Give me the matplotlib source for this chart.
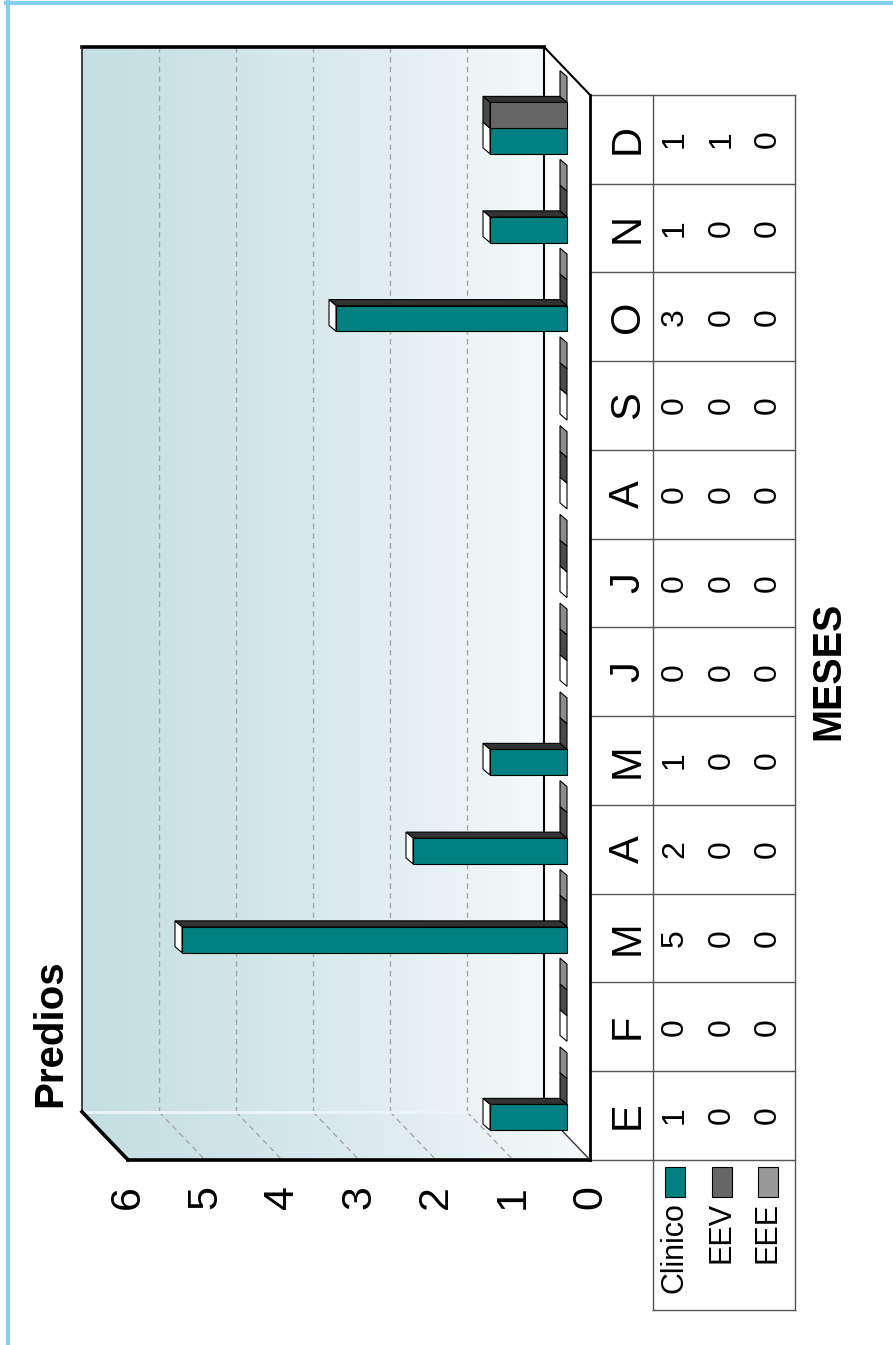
import numpy as np
import matplotlib
matplotlib.use('Agg')
import matplotlib.pyplot as plt
from matplotlib.patches import Polygon, Rectangle
from matplotlib.lines import Line2D
from matplotlib.colors import LinearSegmentedColormap

plt.rcParams['font.family'] = ['Liberation Sans', 'DejaVu Sans']

# ---------------- data ----------------
months = ['E', 'F', 'M', 'A', 'M', 'J', 'J', 'A', 'S', 'O', 'N', 'D']
clinico = [1, 0, 5, 2, 1, 0, 0, 0, 0, 3, 1, 1]
eev = [0, 0, 0, 0, 0, 0, 0, 0, 0, 0, 0, 1]
eee = [0, 0, 0, 0, 0, 0, 0, 0, 0, 0, 0, 0]
series_names = ['Clinico', 'EEV', 'EEE']
y_ticks = [0, 1, 2, 3, 4, 5, 6]
title = 'Predios'
xlabel = 'MESES'

series = [clinico, eev, eee]
front_cols = ['#008080', '#666666', '#999999']
top_cols = ['#ffffff', '#4a4a4a', '#8c8c8c']
side_col = '#333333'

# ---------------- layout (chart is rotated 90 deg) ----------------
W, H = 893, 1345
fig = plt.figure(figsize=(W / 100, H / 100), dpi=100)
ax = fig.add_axes([0, 0, 1, 1])
ax.axis('off')

PX = 77.0      # pixels per value unit
PY = 88.75     # pixels per month
X0 = 590.0     # pixel x of value 0 (front plane)
Y0 = 1115.5    # pixel y of first month (front plane)


def pv(x):
    return (X0 - x) / PX


def pi(y):
    return (Y0 - y) / PY


n = len(months)
vmax = max(y_ticks)
DX = 46 / PX   # full depth offset (value units)
DY = 48 / PY   # full depth offset (month units)
MV = 0.5 * DX  # bars stand at mid depth
MI = 0.5 * DY
BH = 0.29      # bar thickness
bdv = 7 / PX   # bar depth
bdi = 6 / PY

lo, hi = -0.5, n - 0.5

# back wall with gradient
cmap = LinearSegmentedColormap.from_list('wall', ['#f5f9fa', '#d8e9ec', '#c4dee2'])
grad = np.linspace(0, 1, 256).reshape(1, -1)
ax.imshow(grad, cmap=cmap, aspect='auto', interpolation='bilinear',
          extent=(DX, vmax + DX, lo + DY, hi + DY), zorder=0)

# side wall (bottom strip)
side_poly = Polygon([(DX, lo + DY), (vmax + DX, lo + DY), (vmax, lo), (0, lo)],
                    closed=True, facecolor='none', edgecolor='none')
ax.add_patch(side_poly)
im2 = ax.imshow(grad, cmap=cmap, aspect='auto', interpolation='bilinear',
                extent=(0, vmax + DX, lo, lo + DY), zorder=0)
im2.set_clip_path(side_poly)

# gridlines
for k in y_ticks[1:-1]:
    ax.plot([k + DX, k + DX], [lo + DY, hi + DY], color='#a8a8a8', lw=1,
            ls=(0, (4, 3)), zorder=1)
    ax.plot([k + DX, k], [lo + DY, lo], color='#a8a8a8', lw=1,
            ls=(0, (4, 3)), zorder=1)

# junction line
ax.plot([DX, vmax + DX], [lo + DY, lo + DY], color='#eaf5f7', lw=2, zorder=1)

# frame edges
ax.plot([DX, vmax + DX], [hi + DY, hi + DY], color='black', lw=2.6, zorder=2)
ax.plot([vmax + DX, vmax + DX], [hi + DY, lo + DY], color='#222222', lw=1.2, zorder=2)
ax.plot([vmax + DX, vmax], [lo + DY, lo], color='black', lw=2.6, zorder=2)
ax.plot([vmax, 0], [lo, lo], color='black', lw=2.6, zorder=2)
ax.plot([DX, DX], [hi + DY, lo + DY], color='black', lw=1.5, zorder=2)
ax.plot([DX, 0], [hi + DY, hi], color='black', lw=1.5, zorder=2)
ax.plot([DX, 0], [lo + DY, lo], color='#333333', lw=1, zorder=2)

# bars
z = 3
for i in range(n):
    for s, vals in enumerate(series):
        val = vals[i]
        yc = i + MI + (s - 1) * BH
        y0, y1 = yc - BH / 2, yc + BH / 2
        if val > 0:
            ax.barh(yc, val, height=BH, left=MV, color=front_cols[s],
                    edgecolor='black', lw=0.8, zorder=z)
            ax.add_patch(Polygon([(MV, y1), (MV + val, y1),
                                  (MV + val + bdv, y1 + bdi), (MV + bdv, y1 + bdi)],
                                 closed=True, facecolor=side_col, edgecolor='black',
                                 lw=0.8, zorder=z))
        ax.add_patch(Polygon([(MV + val, y0), (MV + val, y1),
                              (MV + val + bdv, y1 + bdi), (MV + val + bdv, y0 + bdi)],
                             closed=True, facecolor=top_cols[s], edgecolor='black',
                             lw=0.8, zorder=z))
        z += 1

# table
tc = '#555555'
vR = pv(795)
vM = pv(653)
for k in range(n + 1):
    ax.plot([0, vR], [k - 0.5, k - 0.5], color=tc, lw=1, zorder=2)
ax.plot([vM, vM], [pi(1310), hi], color=tc, lw=1, zorder=2)
ax.plot([vR, vR], [pi(1310), hi], color=tc, lw=1, zorder=2)
ax.plot([vM, vR], [pi(1310), pi(1310)], color=tc, lw=1, zorder=2)
ax.plot([0, 0], [lo, hi], color='black', lw=2, zorder=5)

val_x = [pv(675), pv(722), pv(768)]
for i in range(n):
    ax.text(pv(628), i, months[i], rotation=90, ha='center', va='center',
            fontsize=30, zorder=6)
    for s, vals in enumerate(series):
        ax.text(val_x[s], i, str(vals[i]), rotation=90, ha='center',
                va='center', fontsize=23, zorder=6)

# legend inside the table
for s, name in enumerate(series_names):
    xc = val_x[s]
    ax.add_patch(Rectangle((xc - 10 / PX, pi(1197)), 20 / PX, 30 / PY,
                           facecolor=front_cols[s], edgecolor='black', lw=0.8,
                           zorder=6))
    ax.text(xc, pi(1202), name, rotation=90, ha='center', va='top',
            fontsize=22, zorder=6)

# value axis tick labels
for k in y_ticks:
    ax.text(k, pi(1197), str(k), rotation=90, ha='center', va='center',
            fontsize=31)

ax.text(pv(50), pi(1033), title, rotation=90, ha='center', va='center',
        fontsize=29, fontweight='bold')
ax.text(pv(828), pi(671), xlabel, rotation=90, ha='center', va='center',
        fontsize=28.5, fontweight='bold')

ax.set_xlim(pv(0), pv(W))
ax.set_ylim(pi(H), pi(0))

# light blue frame lines (top and left)
bc = '#82cfee'
fig.add_artist(Line2D([6 / W, 1], [1 - 3 / H, 1 - 3 / H], transform=fig.transFigure,
                      color=bc, lw=3))
fig.add_artist(Line2D([8 / W, 8 / W], [0, 1 - 1 / H], transform=fig.transFigure,
                      color=bc, lw=3))

fig.savefig('out.png', dpi=100, facecolor='white')
